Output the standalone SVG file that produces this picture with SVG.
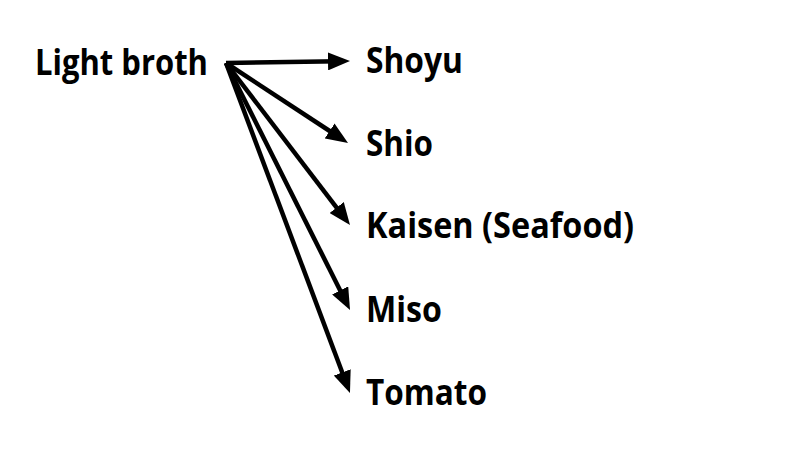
<svg xmlns="http://www.w3.org/2000/svg" width="800" height="456" viewBox="0 0 800 456">
<style>
.t{font-family:"Open Sans","Liberation Sans",sans-serif;font-weight:bold;font-size:35px;fill:#000}
.c{stroke:#000;stroke-width:4.5;fill:none;marker-end:url(#ah)}
</style>
<defs>
<marker id="ah" markerUnits="userSpaceOnUse" markerWidth="22" markerHeight="18" viewBox="0 0 22 18" refX="11" refY="9" orient="auto">
<path d="M0,0 L22,9 L0,18 z" fill="#000"/>
</marker>
</defs>
<rect width="800" height="456" fill="#fff"/>
<g id="connectors">
<line class="c" x1="226" y1="63" x2="339" y2="61.2"/>
<line class="c" x1="226" y1="63" x2="338.8" y2="137"/>
<line class="c" x1="226" y1="63" x2="343.3" y2="216.3"/>
<line class="c" x1="226" y1="63" x2="345.1" y2="300.2"/>
<line class="c" x1="226" y1="63" x2="346.1" y2="382.7"/>
</g>
<g id="light-broth"><text class="t" x="35" y="75" textLength="173" lengthAdjust="spacingAndGlyphs">Light broth</text></g>
<g id="shoyu"><text class="t" x="366" y="73" textLength="97" lengthAdjust="spacingAndGlyphs">Shoyu</text></g>
<g id="shio"><text class="t" x="366" y="156" textLength="67" lengthAdjust="spacingAndGlyphs">Shio</text></g>
<g id="kaisen"><text class="t" x="366" y="238" textLength="268" lengthAdjust="spacingAndGlyphs">Kaisen (Seafood)</text></g>
<g id="miso"><text class="t" x="366" y="322" textLength="76" lengthAdjust="spacingAndGlyphs">Miso</text></g>
<g id="tomato"><text class="t" x="366" y="405" textLength="121" lengthAdjust="spacingAndGlyphs">Tomato</text></g>
</svg>
